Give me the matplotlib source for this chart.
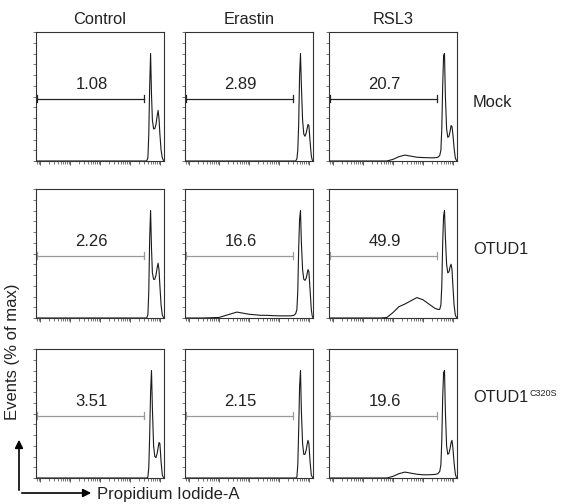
import matplotlib.pyplot as plt
import numpy as np
from matplotlib.patches import FancyArrowPatch

plt.rcParams['font.family'] = ['Liberation Sans', 'DejaVu Sans']

# condicoes e linhagens
tratamentos = ["Control", "Erastin", "RSL3"]
linhagens = ["Mock", "OTUD1", "OTUD1"]

# % de celulas mortas (gate PI+)
gate_mock = [1.08, 2.89, 20.7]
gate_otud1 = [2.26, 16.6, 49.9]
gate_c320s = [3.51, 2.15, 19.6]

pi_log = [0.87, 1.5, 2.0, 2.3, 2.6, 2.8, 3.0, 3.2, 3.4, 3.6, 3.8, 4.0, 4.2,
          4.4, 4.5, 4.56, 4.6, 4.63, 4.66, 4.69, 4.72, 4.75, 4.79, 4.83,
          4.87, 4.91, 4.94, 4.97, 5.0, 5.04, 5.08, 5.11, 5.137]

# Events (% of max) -- Mock
mock_control = [0, 0, 0, 0, 0, 0, 0, 0, 0, 0, 0, 0, 0,
                0, 0, 0, 3, 25, 70, 100, 62, 38, 30, 30,
                34, 42, 47, 40, 25, 10, 3, 1, 0]
mock_erastin = [0, 0, 0, 0, 0, 0, 0, 0, 0, 0, 0, 0, 0,
                0, 0, 0, 2, 10, 35, 80, 100, 70, 38, 25,
                23, 26, 30, 34, 33, 18, 5, 1, 0]
mock_rsl3 = [0, 0, 0, 0, 0, 0, 1.5, 4, 5.5, 4.5, 3.5, 3.2, 3,
             3, 3.5, 5, 10, 30, 70, 98, 100, 60, 30, 22,
             23, 28, 33, 32, 25, 12, 3, 1, 0]

# OTUD1
otud1_control = [0, 0, 0, 0, 0, 0, 0, 0, 0, 0, 0, 0, 0,
                 0, 0, 0, 3, 25, 75, 100, 65, 42, 36, 36,
                 40, 47, 51, 45, 30, 12, 3, 1, 0]
otud1_erastin = [0, 0, 0.5, 3, 5.5, 4.5, 3.5, 3, 2.5, 2.5, 2.2, 2, 2,
                 2, 2.5, 4, 8, 25, 65, 92, 100, 70, 45, 36,
                 35, 37, 41, 45, 43, 26, 8, 2, 0]
otud1_rsl3 = [0, 0, 0, 0, 0, 0.5, 5, 10.5, 13, 16, 19, 17, 13,
              9, 8, 8, 12, 30, 70, 95, 100, 75, 50, 42,
              43, 48, 50, 45, 30, 12, 3, 1, 0]

# OTUD1 C320S
c320s_control = [0, 0, 0, 0, 0, 0, 0, 0, 0, 0, 0, 0, 0,
                 0, 0, 0, 1, 10, 40, 80, 100, 65, 30, 20,
                 19, 23, 28, 33, 32, 15, 3, 1, 0]
c320s_erastin = [0, 0, 0, 0, 0, 0, 0, 0, 0, 0, 0, 0, 0,
                 0, 0, 0, 1, 12, 45, 85, 100, 62, 32, 22,
                 22, 26, 31, 35, 32, 15, 3, 1, 0]
c320s_rsl3 = [0, 0, 0, 0, 0, 0, 1.5, 4, 5.5, 4.5, 3.5, 3, 3,
              3.3, 4, 6, 12, 35, 75, 98, 100, 62, 30, 22,
              23, 28, 33, 35, 28, 14, 4, 1, 0]

histos = [[mock_control, mock_erastin, mock_rsl3],
          [otud1_control, otud1_erastin, otud1_rsl3],
          [c320s_control, c320s_erastin, c320s_rsl3]]
gates = [gate_mock, gate_otud1, gate_c320s]

GATE_FIM = 4.47
GATE_Y = 58
XLIM = (0.87, 5.137)

W, H = 562, 504
fig = plt.figure(figsize=(W/100, H/100), dpi=100)

col_x = [36, 185, 329]
row_y = [32, 189, 349]
larg, alt = 128, 129

# posicoes dos ticks logaritmicos (so os que caem dentro do eixo)
ticks_menores = [d + np.log10(k) for d in range(0, 6) for k in range(2, 10)]
ticks_menores = [t for t in ticks_menores if XLIM[0] < t < XLIM[1]]
ticks_maiores = [float(d) for d in range(1, 6)]

for i in range(3):
    for j in range(3):
        ax = fig.add_axes([col_x[j]/W, 1 - (row_y[i] + alt)/H, larg/W, alt/H])
        ax.plot(pi_log, histos[i][j], color='#1a1a1a', lw=0.8)

        cor_gate = '#222222' if i == 0 else '#9a9a9a'
        ax.plot([XLIM[0], GATE_FIM], [GATE_Y, GATE_Y], color=cor_gate, lw=0.9)
        ax.plot([GATE_FIM, GATE_FIM], [GATE_Y - 3, GATE_Y + 3], color=cor_gate, lw=0.9)
        ax.plot([XLIM[0] + 0.02, XLIM[0] + 0.02], [GATE_Y - 3, GATE_Y + 3], color=cor_gate, lw=0.9)
        ax.text((XLIM[0] + GATE_FIM)/2 + 0.05, GATE_Y + 6, f"{gates[i][j]}",
                ha='center', va='bottom', fontsize=12, color='#222222')

        ax.set_xticks(ticks_maiores)
        ax.set_xticks(ticks_menores, minor=True)
        ax.set_yticks(np.arange(0, 121, 10))
        ax.set_xticklabels([])
        ax.set_yticklabels([])
        # limites so depois dos ticks, senao o set_xticks expande o eixo
        ax.set_xlim(XLIM)
        ax.set_ylim(0, 120)

        ax.tick_params(axis='x', which='major', direction='out', length=3, width=0.6, colors='#444444')
        ax.tick_params(axis='x', which='minor', direction='out', length=2, width=0.5, colors='#444444')
        ax.tick_params(axis='y', direction='out', length=2, width=0.5, colors='#444444')
        for s in ax.spines.values():
            s.set_color('#333333')
            s.set_linewidth(0.8)

# titulos das colunas
for j, t in enumerate(tratamentos):
    fig.text((col_x[j] + larg/2)/W, 1 - 19/H, t, ha='center', va='center', fontsize=11.8, color='#222222')

# rotulos das linhas
fig.text(473/W, 1 - 103/H, linhagens[0], ha='left', va='center', fontsize=11.8, color='#222222')
fig.text(473/W, 1 - 250/H, linhagens[1], ha='left', va='center', fontsize=11.8, color='#222222')
t3 = fig.text(473/W, 1 - 397/H, linhagens[2], ha='left', va='center', fontsize=11.8, color='#222222')
plt.annotate("C320S", xy=(1.0, 0.45), xycoords=t3, xytext=(1, 0), textcoords='offset points',
             ha='left', va='bottom', fontsize=6.5, color='#222222', annotation_clip=False)

# eixos com setas
def px(x, y):
    return (x/W, 1 - y/H)

seta_y = FancyArrowPatch(px(19, 493), px(19, 437), transform=fig.transFigure,
                         arrowstyle='-|>', mutation_scale=12, color='black', lw=1.2)
seta_x = FancyArrowPatch(px(19, 493), px(94, 493), transform=fig.transFigure,
                         arrowstyle='-|>', mutation_scale=12, color='black', lw=1.2)
fig.add_artist(seta_y)
fig.add_artist(seta_x)

fig.text(13/W, 1 - 420/H, "Events (% of max)", rotation=90, ha='center', va='bottom',
         fontsize=12, color='#222222')
fig.text(97/W, 1 - 495/H, "Propidium Iodide-A", ha='left', va='center',
         fontsize=12, color='#222222')

fig.savefig("out.png", dpi=100)
